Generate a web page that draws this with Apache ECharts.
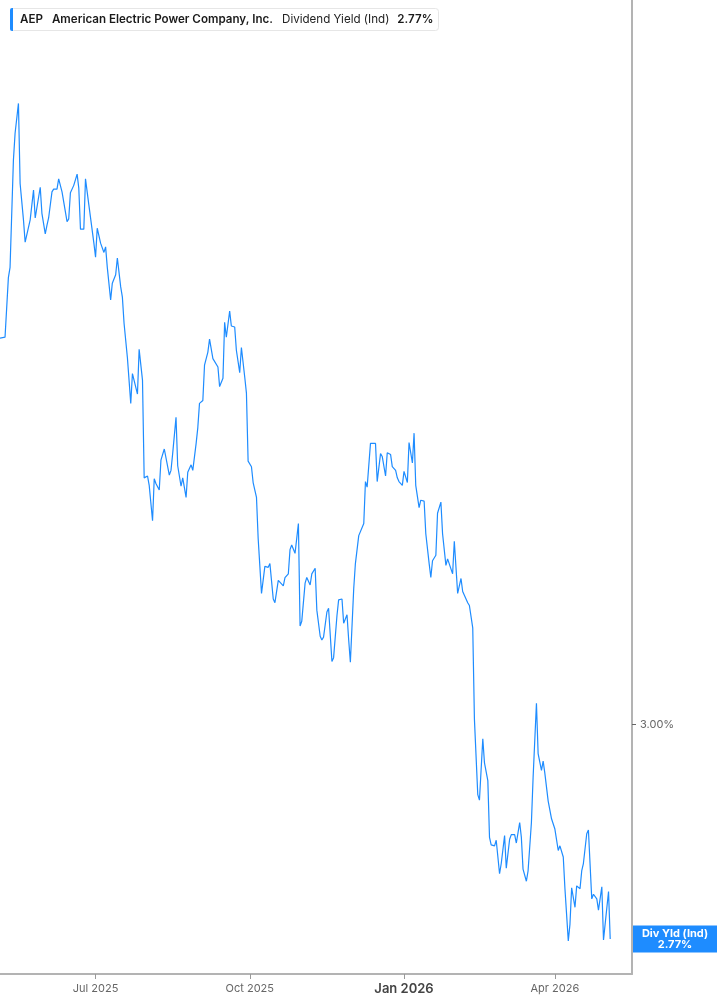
<!DOCTYPE html>
<html>
<head>
<meta charset="utf-8">
<script src="https://cdn.jsdelivr.net/npm/echarts@6/dist/echarts.min.js"></script>
<style>
  html, body { margin: 0; padding: 0; background: #fff; }
  #chart { width: 717px; height: 1005px; }
</style>
</head>
<body>
<div id="chart"></div>
<script>
const dates = [
'2025-05-05','2025-05-06','2025-05-08','2025-05-09','2025-05-10','2025-05-11','2025-05-13','2025-05-14','2025-05-16','2025-05-17',
'2025-05-19','2025-05-20','2025-05-21','2025-05-23','2025-05-25','2025-05-26','2025-05-27','2025-05-29','2025-05-30','2025-06-01',
'2025-06-02','2025-06-03','2025-06-05','2025-06-06','2025-06-08','2025-06-09','2025-06-11','2025-06-12','2025-06-14','2025-06-15',
'2025-06-16','2025-06-18','2025-06-20','2025-06-21','2025-06-22','2025-06-24','2025-06-25','2025-06-27','2025-06-28','2025-06-30',
'2025-07-01','2025-07-02','2025-07-04','2025-07-06','2025-07-07','2025-07-08','2025-07-10','2025-07-11','2025-07-13','2025-07-14',
'2025-07-16','2025-07-17','2025-07-18','2025-07-20','2025-07-22','2025-07-23','2025-07-24','2025-07-26','2025-07-27','2025-07-29',
'2025-07-30','2025-08-01','2025-08-02','2025-08-04','2025-08-05','2025-08-06','2025-08-08','2025-08-09','2025-08-11','2025-08-12',
'2025-08-14','2025-08-15','2025-08-16','2025-08-18','2025-08-19','2025-08-21','2025-08-22','2025-08-24','2025-08-25','2025-08-27',
'2025-08-28','2025-08-30','2025-08-31','2025-09-01','2025-09-03','2025-09-04','2025-09-06','2025-09-07','2025-09-09','2025-09-10',
'2025-09-12','2025-09-13','2025-09-15','2025-09-16','2025-09-17','2025-09-19','2025-09-20','2025-09-22','2025-09-23','2025-09-25',
'2025-09-26','2025-09-28','2025-09-29','2025-09-30','2025-10-02','2025-10-03','2025-10-05','2025-10-06','2025-10-08','2025-10-09',
'2025-10-10','2025-10-12','2025-10-13','2025-10-15','2025-10-16','2025-10-18','2025-10-19','2025-10-21','2025-10-22','2025-10-24',
'2025-10-25','2025-10-26','2025-10-28','2025-10-30','2025-10-31','2025-11-01','2025-11-03','2025-11-04','2025-11-06','2025-11-07',
'2025-11-09','2025-11-10','2025-11-12','2025-11-13','2025-11-14','2025-11-16','2025-11-17','2025-11-19','2025-11-20','2025-11-22',
'2025-11-23','2025-11-25','2025-11-26','2025-11-28','2025-11-29','2025-11-30','2025-12-02','2025-12-03','2025-12-05','2025-12-06',
'2025-12-08','2025-12-09','2025-12-10','2025-12-12','2025-12-13','2025-12-15','2025-12-16','2025-12-18','2025-12-19','2025-12-21',
'2025-12-22','2025-12-24','2025-12-25','2025-12-27','2025-12-28','2025-12-29','2025-12-31','2026-01-01','2026-01-03','2026-01-04',
'2026-01-06','2026-01-07','2026-01-08','2026-01-10','2026-01-11','2026-01-13','2026-01-14','2026-01-16','2026-01-17','2026-01-18',
'2026-01-20','2026-01-21','2026-01-23','2026-01-24','2026-01-26','2026-01-27','2026-01-28','2026-01-30','2026-01-31','2026-02-02',
'2026-02-04','2026-02-05','2026-02-06','2026-02-08','2026-02-09','2026-02-11','2026-02-12','2026-02-14','2026-02-15','2026-02-17',
'2026-02-18','2026-02-20','2026-02-21','2026-02-22','2026-02-24','2026-02-25','2026-02-27','2026-02-28','2026-03-02','2026-03-03',
'2026-03-05','2026-03-06','2026-03-08','2026-03-09','2026-03-11','2026-03-12','2026-03-13','2026-03-15','2026-03-16','2026-03-18',
'2026-03-19','2026-03-21','2026-03-22','2026-03-24','2026-03-25','2026-03-26','2026-03-28','2026-03-30','2026-03-31','2026-04-01',
'2026-04-03','2026-04-04','2026-04-06','2026-04-07','2026-04-09','2026-04-10','2026-04-11','2026-04-13','2026-04-14','2026-04-16',
'2026-04-17','2026-04-18','2026-04-20','2026-04-21','2026-04-23','2026-04-24','2026-04-26','2026-04-27','2026-04-29','2026-04-30',
'2026-05-01','2026-05-03','2026-05-04'
];

const yields = [
3.415,3.417,3.416,3.416,3.480,3.491,3.606,3.635,3.667,3.581,
3.542,3.518,3.519,3.542,3.574,3.544,3.543,3.577,3.549,3.527,
3.536,3.544,3.572,3.575,3.575,3.586,3.572,3.571,3.540,3.543,
3.571,3.579,3.591,3.576,3.532,3.532,3.586,3.558,3.556,3.517,
3.502,3.533,3.517,3.507,3.513,3.491,3.456,3.474,3.483,3.501,
3.470,3.459,3.431,3.394,3.345,3.377,3.375,3.355,3.403,3.370,
3.265,3.267,3.257,3.219,3.264,3.259,3.252,3.284,3.296,3.296,
3.268,3.273,3.291,3.330,3.278,3.256,3.265,3.244,3.271,3.279,
3.273,3.302,3.319,3.345,3.348,3.386,3.400,3.414,3.393,3.392,
3.384,3.363,3.372,3.432,3.416,3.444,3.428,3.427,3.402,3.378,
3.405,3.373,3.356,3.283,3.277,3.260,3.244,3.200,3.141,3.140,
3.170,3.169,3.173,3.135,3.131,3.155,3.155,3.149,3.158,3.162,
3.188,3.193,3.184,3.216,3.106,3.111,3.152,3.158,3.150,3.162,
3.168,3.123,3.095,3.091,3.094,3.121,3.125,3.068,3.072,3.117,
3.134,3.135,3.109,3.118,3.091,3.067,3.146,3.173,3.203,3.205,
3.216,3.261,3.255,3.302,3.301,3.302,3.261,3.291,3.288,3.267,
3.292,3.290,3.277,3.273,3.265,3.261,3.257,3.272,3.260,3.303,
3.281,3.313,3.257,3.233,3.241,3.240,3.205,3.173,3.158,3.176,
3.182,3.227,3.239,3.205,3.171,3.178,3.176,3.162,3.197,3.141,
3.157,3.143,3.139,3.131,3.128,3.104,3.006,2.925,2.919,2.985,
2.959,2.940,2.879,2.871,2.870,2.876,2.840,2.851,2.881,2.846,
2.877,2.882,2.882,2.873,2.895,2.879,2.845,2.832,2.843,2.895,
2.943,3.023,2.969,2.951,2.961,2.948,2.918,2.899,2.899,2.888,
2.865,2.870,2.858,2.824,2.768,2.786,2.825,2.804,2.827,2.824,
2.843,2.851,2.883,2.887,2.813,2.818,2.813,2.801,2.826,2.769,
2.771,2.821,2.770
];

const xTickDates = ['2025-07-01', '2025-10-01', '2026-01-01', '2026-04-01'];
const xTickLabels = ['Jul 2025', 'Oct 2025', 'Jan 2026', 'Apr 2026'];
const xRange = ['2025-05-05', '2026-05-17'];
const yTickValues = [3.00];
const yTickLabels = ['3.00%'];
const yRange = [2.7324, 3.778];

const ticker = 'AEP';
const companyName = 'American Electric Power Company, Inc.';
const metricName = 'Dividend Yield (Ind)';
const lastLabelName = 'Div Yld (Ind)';
const lastValue = 2.77;
const lastValueText = '2.77%';

const FONT = 'Inter, Roboto, "Noto Sans", sans-serif';
const BLUE = '#1e8cff';

const toTs = s => echarts.time.parse(s).getTime();
const xTickTs = xTickDates.map(toTs);
const seriesData = dates.map((d, i) => [toTs(d), yields[i]]);

const chart = echarts.init(document.getElementById('chart'), null, { renderer: 'canvas' });

chart.setOption({
  animation: false,
  backgroundColor: '#fff',
  textStyle: { fontFamily: FONT },
  title: {
    left: 10,
    top: 8,
    padding: [0, 5, 0, 0],
    backgroundColor: '#fff',
    borderColor: '#e6e6e6',
    borderWidth: 1,
    borderRadius: 3,
    text: '{bar|}{t|' + ticker + '}{n|' + companyName + '}{m|' + metricName + '}{v|' + lastValueText + '}',
    textStyle: {
      fontFamily: FONT,
      rich: {
        bar: { width: 3, height: 23, backgroundColor: BLUE, borderRadius: [2, 0, 0, 2] },
        t: { fontFamily: FONT, fontSize: 11.6, fontWeight: 600, color: '#1a1a1a', padding: [0, 0, 0, 7] },
        n: { fontFamily: FONT, fontSize: 11.6, fontWeight: 600, color: '#1a1a1a', padding: [0, 0, 0, 9] },
        m: { fontFamily: FONT, fontSize: 11.6, fontWeight: 400, color: '#222', padding: [0, 0, 0, 9] },
        v: { fontFamily: FONT, fontSize: 11.6, fontWeight: 600, color: '#1a1a1a', padding: [0, 0, 0, 8] }
      }
    }
  },
  grid: {
    left: 0,
    right: 85,
    top: 0,
    bottom: 31,
    containLabel: false,
    outerBoundsMode: 'none'
  },
  xAxis: {
    type: 'value',
    min: toTs(xRange[0]),
    max: toTs(xRange[1]),
    axisLine: { show: true, onZero: false, lineStyle: { color: '#b3b3b3', width: 2 } },
    axisTick: { show: true, customValues: xTickTs, length: 5, lineStyle: { color: '#999', width: 1 } },
    splitLine: { show: false },
    axisLabel: {
      customValues: xTickTs,
      margin: 9,
      fontFamily: FONT,
      fontSize: 11,
      color: '#666',
      formatter: function (v) {
        let idx = -1;
        xTickTs.forEach((t, i) => { if (Math.abs(t - v) < 86400000) idx = i; });
        if (idx < 0) return '';
        const lab = xTickLabels[idx];
        return /^Jan/.test(lab) ? '{b|' + lab + '}' : lab;
      },
      rich: {
        b: { fontFamily: FONT, fontSize: 13, fontWeight: 600, color: '#444' }
      }
    }
  },
  yAxis: {
    type: 'value',
    position: 'right',
    min: yRange[0],
    max: yRange[1],
    axisLine: { show: true, onZero: false, lineStyle: { color: '#b3b3b3', width: 2 } },
    axisTick: { show: true, customValues: yTickValues, length: 4, inside: false, lineStyle: { color: '#666', width: 1 } },
    splitLine: { show: false },
    axisLabel: {
      customValues: yTickValues,
      margin: 8,
      fontFamily: FONT,
      fontSize: 11,
      color: '#666',
      formatter: function (v) {
        const idx = yTickValues.findIndex(t => Math.abs(t - v) < 1e-6);
        return idx >= 0 ? yTickLabels[idx] : '';
      }
    }
  },
  series: [{
    type: 'line',
    data: seriesData,
    showSymbol: false,
    symbol: 'none',
    smooth: false,
    clip: false,
    lineStyle: { color: BLUE, width: 1.2 },
    silent: true,
    markLine: {
      silent: true,
      symbol: ['none', 'none'],
      lineStyle: { color: 'rgba(0,0,0,0)', width: 1, type: 'solid' },
      data: [{ yAxis: lastValue }],
      label: {
        show: true,
        position: 'end',
        distance: 1,
        formatter: '{a|' + lastLabelName + '}\n{a|' + lastValueText + '}',
        backgroundColor: BLUE,
        padding: [3, 7, 2, 7],
        rich: {
          a: { fontFamily: FONT, fontSize: 11, fontWeight: 700, color: '#fff', width: 70, align: 'center', lineHeight: 11 }
        }
      },
      emphasis: { disabled: true }
    }
  }]
});
</script>
</body>
</html>
